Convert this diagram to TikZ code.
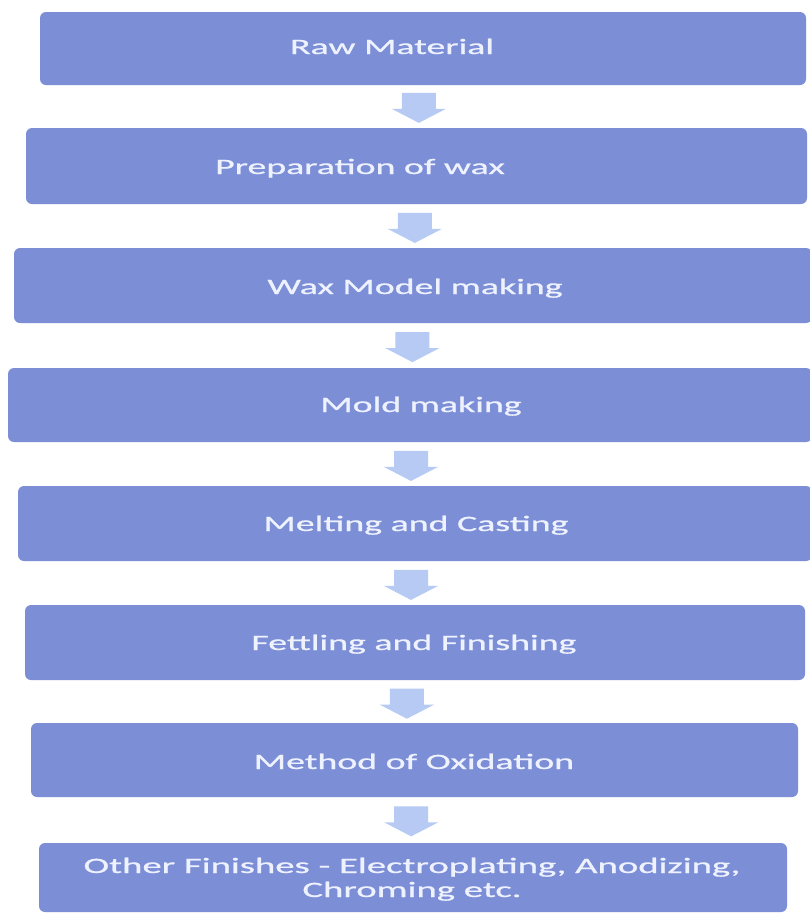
\documentclass[tikz,border=0pt]{standalone}
\usepackage{fontspec}
\setmainfont{Carlito}
\newfontfamily\lblfamily[FakeBold=0.6]{Carlito}
\usetikzlibrary{fit,calc}
\definecolor{boxfill}{RGB}{124,142,214}
\definecolor{arrowfill}{RGB}{182,202,243}
\definecolor{labeltext}{RGB}{238,242,255}
% stretched label text
\newcommand{\wide}[1]{\scalebox{1.72}[1]{#1}}
\newcommand{\wider}[1]{\scalebox{1.76}[1]{#1}}
\tikzset{
  stepbox/.style={fill=boxfill, draw=none, rounded corners=6pt, inner sep=0pt},
  lbl/.style={text=labeltext, anchor=base, inner sep=0pt, font=\lblfamily\fontsize{22}{25}\selectfont},
  blockarrow/.style={fill=arrowfill, draw=none}
}
% block arrow pointing down: top centre at #1
\newcommand{\steparrow}[1]{%
  \fill[blockarrow] ($(#1)+(-17,0)$) -- ($(#1)+(17,0)$) -- ($(#1)+(17,16)$) -- ($(#1)+(27,16)$)
    -- ($(#1)+(0,30)$) -- ($(#1)+(-27,16)$) -- ($(#1)+(-17,16)$) -- cycle;}
\begin{document}
\begin{tikzpicture}[x=1pt,y=-1pt]
\useasboundingbox (0,0) rectangle (810,914);
\fill[white] (0,0) rectangle (810,914);

% process steps
\node[stepbox, fit={(40,12) (806,85)}] (b1) {};
\node[stepbox, fit={(26,128) (807,204)}] (b2) {};
\node[stepbox, fit={(14,248) (812,323)}] (b3) {};
\node[stepbox, fit={(8,368) (812,442)}] (b4) {};
\node[stepbox, fit={(18,486) (812,561)}] (b5) {};
\node[stepbox, fit={(25,605) (805,680)}] (b6) {};
\node[stepbox, fit={(31,723) (798,797)}] (b7) {};
\node[stepbox, fit={(39,843) (787,912)}] (b8) {};

% labels
\node[lbl] (t1) at (392,54) {\wide{Raw Material}};
\node[lbl] (t2) at (360,174) {\wide{Preparation of wax}};
\node[lbl] (t3) at (415,294) {\wide{Wax Model making}};
\node[lbl] (t4) at (421,412) {\wide{Mold making}};
\node[lbl] (t5) at (416,531) {\wide{Melting and Casting}};
\node[lbl] (t6) at (414,650) {\wide{Fettling and Finishing}};
\node[lbl] (t7) at (414,769) {\wide{Method of Oxidation}};
\node[lbl] (t8a) at (412,873) {\wider{Other Finishes - Electroplating, Anodizing,}};
\node[lbl] (t8b) at (412,897) {\wider{Chroming etc.}};

% arrows between steps
\coordinate (a1) at ($(b1.south)!0.18!(b2.north) + (-3,0)$);
\coordinate (a2) at ($(b2.south)!0.2!(b3.north) + (-1,0)$);
\coordinate (a3) at ($(b3.south)!0.2!(b4.north) + (0,0)$);
\coordinate (a4) at ($(b4.south)!0.2!(b5.north) + (0,0)$);
\coordinate (a5) at ($(b5.south)!0.2!(b6.north) + (-4,0)$);
\coordinate (a6) at ($(b6.south)!0.2!(b7.north) + (-8,0)$);
\coordinate (a7) at ($(b7.south)!0.2!(b8.north) + (-3,0)$);
\foreach \a in {a1,a2,a3,a4,a5,a6,a7} {\steparrow{\a}}
\end{tikzpicture}
\end{document}
